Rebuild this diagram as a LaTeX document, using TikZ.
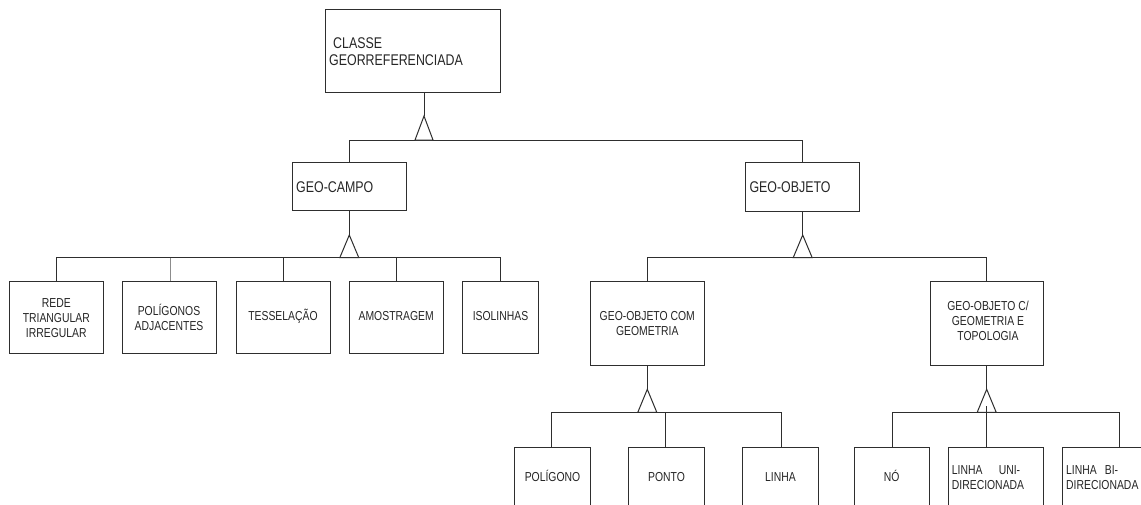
\documentclass[tikz,border=0pt]{standalone}
\usepackage{fontspec}
\setmainfont{Liberation Sans}[FakeStretch=0.8]
\usetikzlibrary{fit}
\definecolor{linecol}{HTML}{2E2E2E}
\definecolor{txtcol}{HTML}{262626}
\definecolor{softcol}{HTML}{8C8C8C}
\newcommand{\bigfont}{\fontsize{15.5}{16.7}\selectfont}
\newcommand{\smallfont}{\fontsize{13}{15}\selectfont}
\begin{document}
\begin{tikzpicture}[x=1pt,y=-1pt,
  box/.style={draw=linecol, line width=1pt, inner sep=0pt, fill=white},
  lnk/.style={draw=linecol, line width=1pt},
  softlnk/.style={draw=softcol, line width=1pt},
  gen/.style={draw=linecol, line width=1pt, fill=white, line join=miter},
  bigtxt/.style={inner sep=0pt, text=txtcol, font=\bigfont, align=left},
  smalltxt/.style={inner sep=0pt, text=txtcol, font=\smallfont, align=center},
  lefttxt/.style={inner sep=0pt, text=txtcol, font=\smallfont, align=left}]
\useasboundingbox (0,0) rectangle (1141,504);
\clip (0,0) rectangle (1141,504);
\fill[white] (0,0) rectangle (1141,504);

% ---- boxes ----
\node[box, fit={(325.7,9.3) (500,92.3)}] (root) {};
\node[box, fit={(292.7,162.7) (406,210.7)}] (campo) {};
\node[box, fit={(745,162.7) (859.3,211)}] (objeto) {};

\node[box, fit={(9.3,281.7) (103.3,353.3)}] (rede) {};
\node[box, fit={(122,281.7) (216,353.3)}] (poligonos) {};
\node[box, fit={(236,281.7) (330,353.3)}] (tess) {};
\node[box, fit={(349,281.7) (443.3,353.3)}] (amos) {};
\node[box, fit={(462.7,281.7) (538.3,353.3)}] (iso) {};

\node[box, fit={(590.7,281.7) (704,365.3)}] (ogeo) {};
\node[box, fit={(930,281.7) (1043.3,365.3)}] (otopo) {};

\node[box, fit={(514.3,447.3) (590.7,520)}] (poligono) {};
\node[box, fit={(628.3,447.3) (704.6,520)}] (ponto) {};
\node[box, fit={(742.7,447.3) (818,520)}] (linha) {};
\node[box, fit={(854,447.3) (929.3,520)}] (no) {};
\node[box, fit={(948.3,447.3) (1043.3,520)}] (uni) {};
\node[box, fit={(1062.7,447.3) (1170,520)}] (bi) {};

% ---- texts (base anchor = baseline of the last line) ----
\node[bigtxt, anchor=base west] (troot) at (329,65)
  {\hspace{4pt}CLASSE\\GEORREFERENCIADA};
\node[bigtxt, anchor=base west] (tcampo) at (296,192.7) {GEO-CAMPO};
\node[bigtxt, anchor=base west] (tobjeto) at (749.3,192.7) {GEO-OBJETO};

\node[smalltxt, anchor=base] (trede) at (56.3,337) {REDE\\TRIANGULAR\\IRREGULAR};
\node[smalltxt, anchor=base] (tpoligonos) at (169,330.7) {POLÍGONOS\\ADJACENTES};
\node[smalltxt, anchor=base] (ttess) at (283,320.7) {TESSELAÇÃO};
\node[smalltxt, anchor=base] (tamos) at (396.2,320.7) {AMOSTRAGEM};
\node[smalltxt, anchor=base] (tiso) at (500.5,320.7) {ISOLINHAS};

\node[smalltxt, anchor=base] (togeo) at (647.3,335.7) {GEO-OBJETO COM\\GEOMETRIA};
\node[smalltxt, anchor=base] (totopo) at (988,340.7) {GEO-OBJETO C/\\GEOMETRIA E\\TOPOLOGIA};

\node[smalltxt, anchor=base] (tpoligono) at (552.5,481.3) {POLÍGONO};
\node[smalltxt, anchor=base] (tponto) at (666.5,481.3) {PONTO};
\node[smalltxt, anchor=base] (tlinha) at (780.4,481.3) {LINHA};
\node[smalltxt, anchor=base] (tno) at (891.7,481.3) {NÓ};
\node[lefttxt, anchor=base west] (tuni) at (951.7,489)
  {\makebox[68.3pt][s]{LINHA\hfill UNI-}\\DIRECIONADA};
\node[lefttxt, anchor=base west] (tbi) at (1066,489)
  {\makebox[52pt][s]{LINHA\hfill BI-}\\DIRECIONADA};

% ---- level 1: root -> campo / objeto ----
\coordinate (a1) at (424,116);
\coordinate (j1l) at (349.3,140);
\coordinate (j1r) at (802.7,140);
\draw[lnk] (a1 |- root.south) -- (a1);
\draw[lnk] (campo.north -| j1l) -- (j1l) -- (j1r) -- (objeto.north -| j1r);
\draw[gen] (a1) -- ++(-9,24) -- ++(18,0) -- cycle;

% ---- level 2: campo -> field representations ----
\coordinate (a2) at (349.3,235);
\coordinate (j2l) at (56.7,257.7);
\coordinate (j2r) at (500.7,257.7);
\draw[lnk] (a2 |- campo.south) -- (a2);
\draw[lnk] (rede.north -| j2l) -- (j2l) -- (j2r) -- (iso.north -| j2r);
\draw[softlnk] (170,257.7) -- (poligonos.north -| 170,0);
\draw[lnk] (283.3,257.7) -- (tess.north -| 283.3,0);
\draw[lnk] (396.7,257.7) -- (amos.north -| 396.7,0);
\draw[gen] (a2) -- ++(-9.5,22.7) -- ++(19,0) -- cycle;

% ---- level 2: objeto -> geometry / topology ----
\coordinate (a3) at (802.7,235);
\coordinate (j3l) at (647.3,257.7);
\coordinate (j3r) at (986.7,257.7);
\draw[lnk] (a3 |- objeto.south) -- (a3);
\draw[lnk] (ogeo.north -| j3l) -- (j3l) -- (j3r) -- (otopo.north -| j3r);
\draw[gen] (a3) -- ++(-9.5,22.7) -- ++(19,0) -- cycle;

% ---- level 3: geometry -> polygon / point / line ----
\coordinate (a4) at (647.3,389.3);
\coordinate (j4l) at (551.7,412.3);
\coordinate (j4r) at (781,412.3);
\draw[lnk] (a4 |- ogeo.south) -- (a4);
\draw[lnk] (poligono.north -| j4l) -- (j4l) -- (j4r) -- (linha.north -| j4r);
\draw[lnk] (665,412.3) -- (ponto.north -| 665,0);
\draw[gen] (a4) -- ++(-9.5,23) -- ++(19,0) -- cycle;

% ---- level 3: topology -> node / arcs ----
\coordinate (a5) at (986.7,389.3);
\coordinate (j5l) at (892.3,412.3);
\coordinate (j5r) at (1119.3,412.3);
\draw[lnk] (a5 |- otopo.south) -- (a5);
\draw[lnk] (no.north -| j5l) -- (j5l) -- (j5r) -- (bi.north -| j5r);
\draw[gen] (a5) -- ++(-9.5,23) -- ++(19,0) -- cycle;
\draw[lnk] (986.7,406) -- (uni.north -| 986.7,0);
\end{tikzpicture}
\end{document}
